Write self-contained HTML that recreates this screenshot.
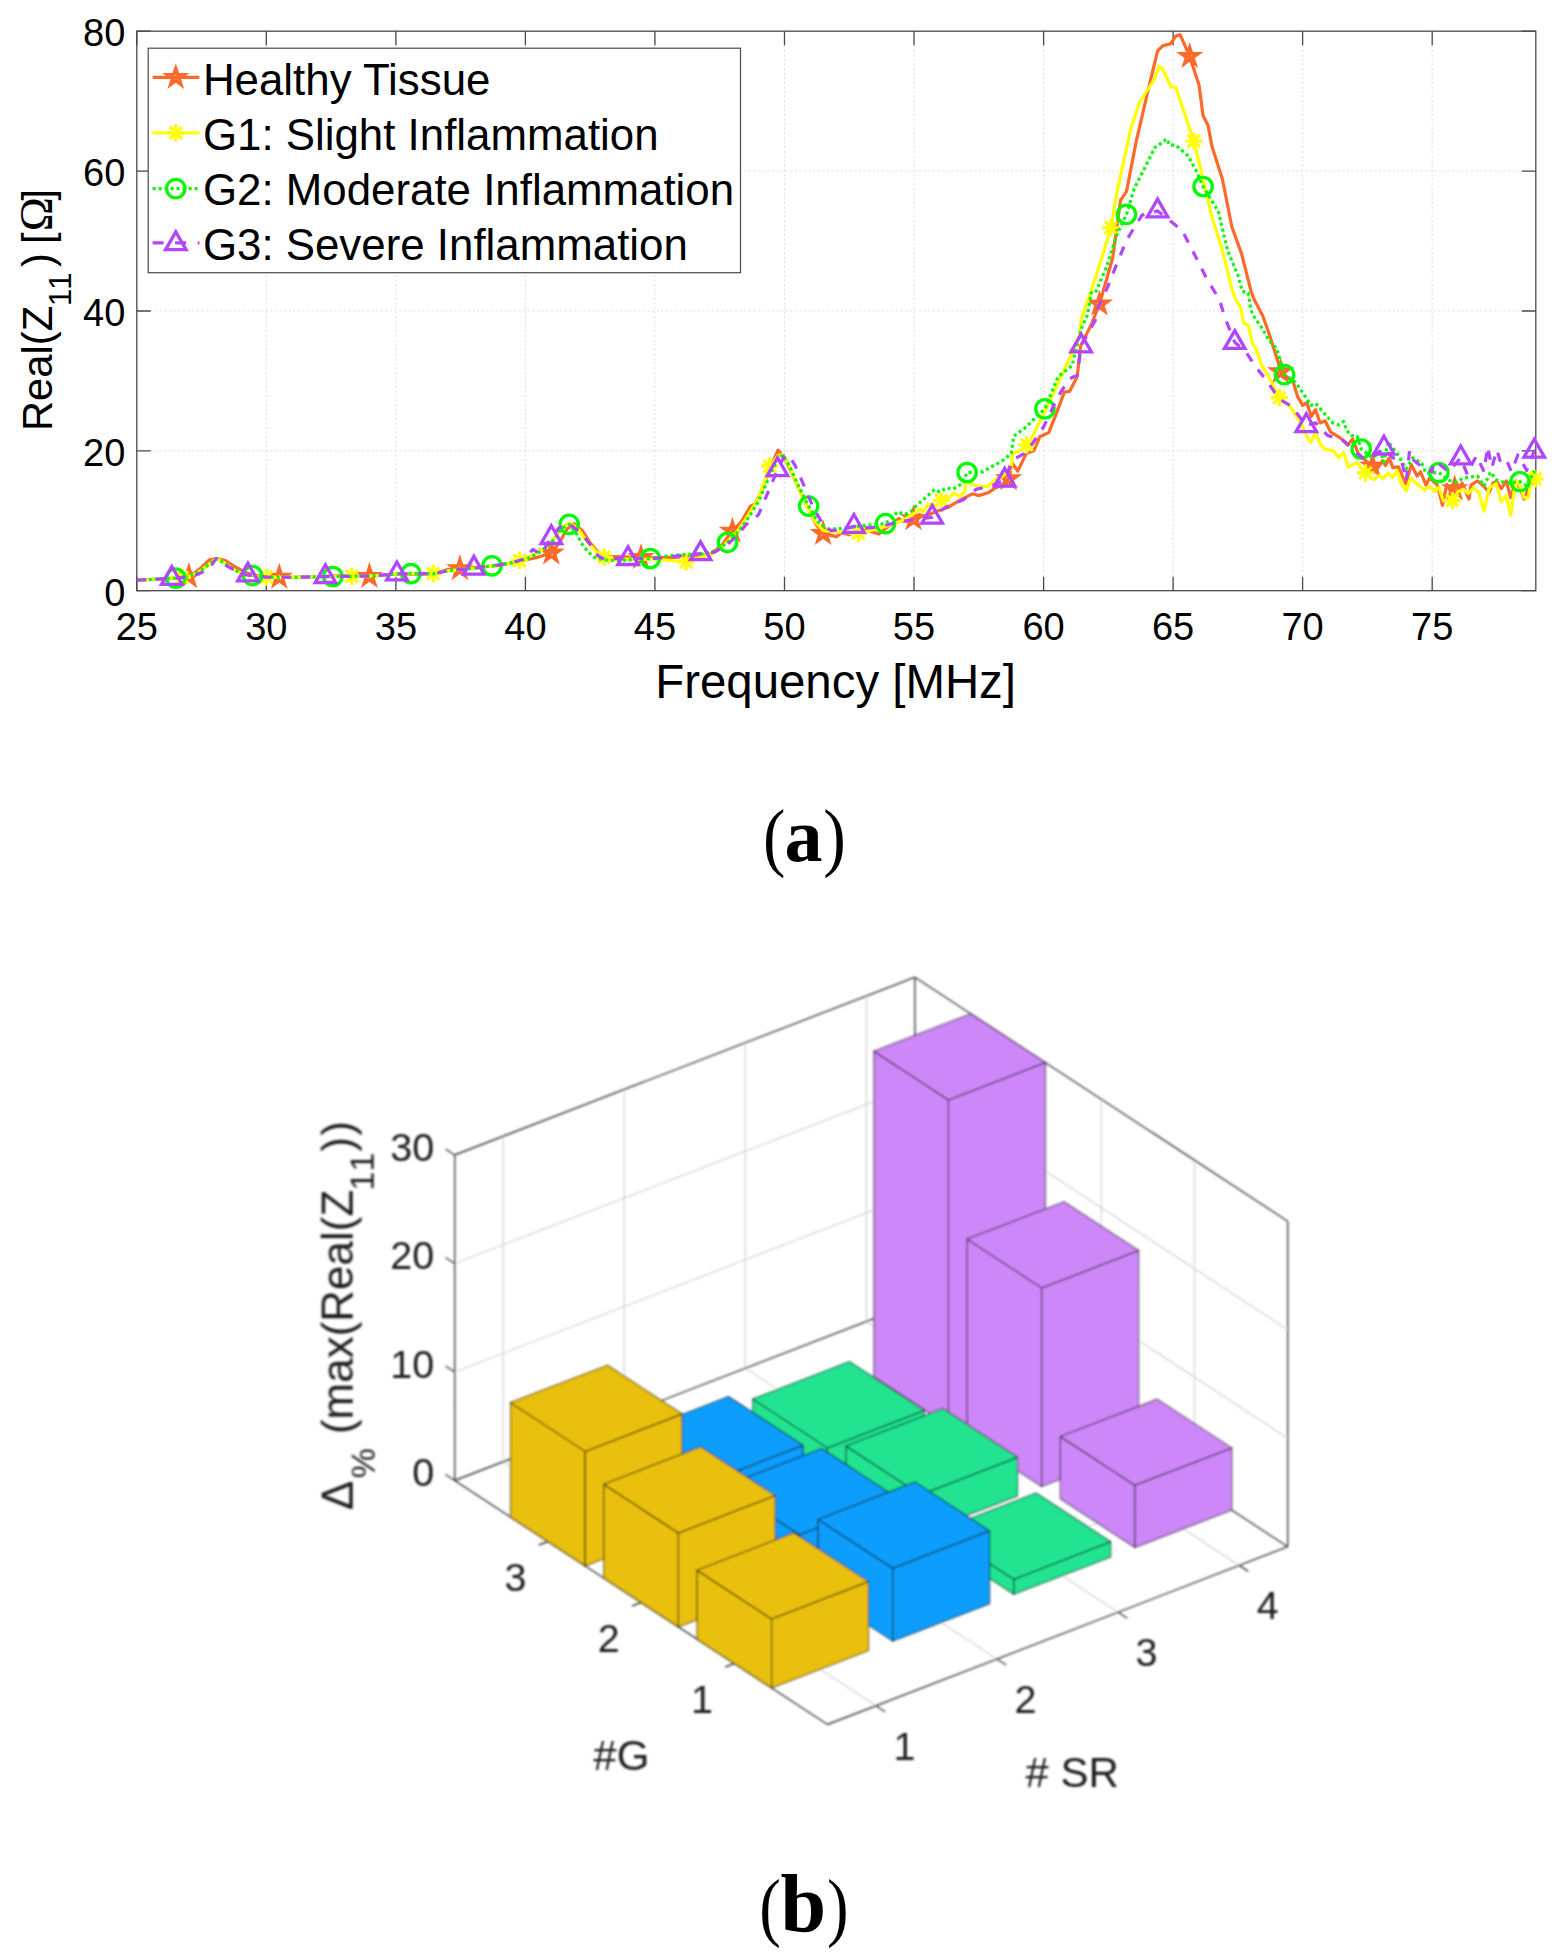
<!DOCTYPE html>
<html lang="en"><head><meta charset="utf-8"><title>Figure</title>
<style>html,body{margin:0;padding:0;background:#fff}svg{display:block}text{fill:#000}</style></head><body>
<svg width="1565" height="1958" viewBox="0 0 1565 1958">
<rect width="1565" height="1958" fill="#fff"/>
<defs><clipPath id="ca"><rect x="136.8" y="31.2" width="1399.0" height="559.5"/></clipPath></defs>
<g id="chart-a">
<path d="M266.3 31.2V590.7M395.9 31.2V590.7M525.4 31.2V590.7M654.9 31.2V590.7M784.5 31.2V590.7M914.0 31.2V590.7M1043.6 31.2V590.7M1173.1 31.2V590.7M1302.6 31.2V590.7M1432.2 31.2V590.7M136.8 450.8H1535.8M136.8 311.0H1535.8M136.8 171.1H1535.8" stroke="#dcdcdc" stroke-width="0.9" stroke-dasharray="2.3 2.3" fill="none"/>
<path d="M136.8 590.7v-14.0M136.8 31.2v14.0M266.3 590.7v-14.0M266.3 31.2v14.0M395.9 590.7v-14.0M395.9 31.2v14.0M525.4 590.7v-14.0M525.4 31.2v14.0M654.9 590.7v-14.0M654.9 31.2v14.0M784.5 590.7v-14.0M784.5 31.2v14.0M914.0 590.7v-14.0M914.0 31.2v14.0M1043.6 590.7v-14.0M1043.6 31.2v14.0M1173.1 590.7v-14.0M1173.1 31.2v14.0M1302.6 590.7v-14.0M1302.6 31.2v14.0M1432.2 590.7v-14.0M1432.2 31.2v14.0M136.8 590.7h14.0M1535.8 590.7h-14.0M136.8 450.8h14.0M1535.8 450.8h-14.0M136.8 311.0h14.0M1535.8 311.0h-14.0M136.8 171.1h14.0M1535.8 171.1h-14.0M136.8 31.2h14.0M1535.8 31.2h-14.0" stroke="#4a4a4a" stroke-width="1.3" fill="none"/>
<rect x="136.8" y="31.2" width="1399.0" height="559.5" fill="none" stroke="#4a4a4a" stroke-width="1.3"/>
<g fill="none" stroke-linejoin="round">
<polyline clip-path="url(#ca)" points="136.8,580.2 149.8,579.5 162.7,578.8 175.7,578.1 188.6,576.7 199.0,569.7 209.3,559.9 216.3,558.5 224.9,560.3 235.2,566.9 245.6,572.5 256.0,575.3 266.3,577.1 292.2,577.4 318.2,576.7 344.1,575.7 370.0,576.4 395.9,573.9 421.8,574.3 434.7,573.6 447.7,569.4 473.6,567.6 499.5,565.5 512.5,562.7 525.4,559.9 538.4,557.1 551.3,552.9 559.1,543.1 566.9,529.2 574.1,523.6 582.4,530.6 590.2,543.1 599.2,553.6 608.3,556.4 629.0,557.1 654.9,557.8 680.9,557.1 701.6,555.7 711.9,553.6 722.3,544.5 732.4,531.3 741.0,522.2 750.5,506.1 755.0,504.0 761.2,492.1 768.9,470.4 778.0,450.1 784.5,457.8 792.3,474.6 800.0,491.4 808.6,509.6 815.6,523.6 822.6,533.4 831.1,535.4 836.3,536.8 841.5,532.7 849.3,534.8 857.0,530.6 864.8,528.5 872.6,532.0 878.8,534.1 885.5,528.5 892.5,523.6 898.5,518.7 903.7,521.5 908.8,520.8 913.5,518.7 919.2,514.5 924.4,516.6 937.3,511.0 947.7,507.5 960.7,499.8 972.3,493.8 978.8,495.6 987.9,492.8 994.3,488.6 1003.1,484.4 1008.6,478.8 1012.5,463.4 1017.7,471.1 1026.2,453.6 1033.7,450.8 1039.7,436.8 1048.7,432.6 1056.5,413.1 1064.3,392.1 1069.5,391.4 1077.2,376.7 1080.6,345.9 1091.2,324.9 1099.5,304.0 1112.7,257.8 1120.5,200.4 1126.5,191.4 1136.0,142.4 1149.3,85.1 1157.6,50.8 1162.7,45.9 1170.5,43.8 1175.7,36.1 1180.1,34.7 1189.7,56.4 1199.0,85.1 1203.1,115.8 1208.1,125.6 1212.0,146.6 1222.3,178.8 1231.9,227.0 1241.5,253.6 1250.8,290.2 1253.9,299.1 1262.7,315.8 1269.2,334.0 1278.3,362.7 1280.6,371.8 1293.3,382.3 1297.5,396.3 1302.6,405.4 1306.8,402.6 1311.2,416.6 1315.6,409.6 1320.0,422.9 1325.2,420.8 1330.4,431.9 1340.5,438.2 1348.2,444.5 1352.6,438.9 1358.3,453.6 1368.7,463.4 1377.0,469.0 1382.7,460.6 1385.5,465.5 1389.2,457.8 1392.8,467.6 1398.5,466.9 1405.7,483.7 1411.4,464.8 1417.1,476.0 1420.5,471.8 1426.0,485.1 1429.6,478.1 1437.4,485.1 1442.5,505.4 1446.7,484.4 1450.3,490.7 1454.7,488.6 1456.8,483.0 1459.4,490.0 1462.0,483.0 1469.0,499.1 1471.0,485.1 1477.5,480.9 1483.5,486.1 1489.2,492.1 1493.1,483.0 1496.9,481.6 1501.3,488.6 1506.3,480.9 1510.7,497.7 1515.6,480.9 1520.3,488.6 1524.1,499.1 1529.3,485.8 1534.5,480.2 1538.4,482.3" stroke="#FF6929" stroke-width="3.2"/>
<g stroke="#FF6929" stroke-width="3.5" stroke-linejoin="miter"><polygon points="188.9,567.8 190.8,573.9 197.1,573.8 192.0,577.6 194.0,583.6 188.9,579.9 183.8,583.6 185.7,577.6 180.6,573.8 186.9,573.9"/><polygon points="279.3,568.5 281.2,574.6 287.6,574.5 282.4,578.3 284.4,584.3 279.3,580.6 274.2,584.3 276.1,578.3 271.0,574.5 277.3,574.6"/><polygon points="369.4,567.6 371.4,573.7 377.7,573.7 372.6,577.4 374.6,583.4 369.4,579.7 364.3,583.4 366.3,577.4 361.2,573.7 367.5,573.7"/><polygon points="459.9,559.8 461.8,565.9 468.1,565.9 463.0,569.6 465.0,575.6 459.9,571.9 454.8,575.6 456.7,569.6 451.6,565.9 457.9,565.9"/><polygon points="551.3,544.2 553.3,550.2 559.6,550.2 554.5,554.0 556.4,560.0 551.3,556.3 546.2,560.0 548.2,554.0 543.0,550.2 549.4,550.2"/><polygon points="641.0,548.8 642.9,554.8 649.2,554.8 644.1,558.5 646.1,564.5 641.0,560.8 635.8,564.5 637.8,558.5 632.7,554.8 639.0,554.8"/><polygon points="732.4,522.6 734.4,528.6 740.7,528.6 735.6,532.3 737.5,538.3 732.4,534.6 727.3,538.3 729.3,532.3 724.1,528.6 730.5,528.6"/><polygon points="823.1,524.8 825.0,530.8 831.4,530.8 826.2,534.5 828.2,540.5 823.1,536.8 818.0,540.5 819.9,534.5 814.8,530.8 821.1,530.8"/><polygon points="913.5,510.0 915.5,516.0 921.8,516.0 916.7,519.7 918.6,525.7 913.5,522.0 908.4,525.7 910.3,519.7 905.2,516.0 911.6,516.0"/><polygon points="1008.6,470.1 1010.5,476.1 1016.9,476.1 1011.7,479.8 1013.7,485.8 1008.6,482.1 1003.5,485.8 1005.4,479.8 1000.3,476.1 1006.6,476.1"/><polygon points="1099.5,295.3 1101.5,301.3 1107.8,301.3 1102.7,305.0 1104.6,311.0 1099.5,307.3 1094.4,311.0 1096.4,305.0 1091.2,301.3 1097.6,301.3"/><polygon points="1189.7,47.7 1191.6,53.7 1198.0,53.7 1192.8,57.4 1194.8,63.4 1189.7,59.7 1184.6,63.4 1186.5,57.4 1181.4,53.7 1187.7,53.7"/><polygon points="1280.6,363.1 1282.6,369.1 1288.9,369.1 1283.8,372.8 1285.7,378.8 1280.6,375.1 1275.5,378.8 1277.5,372.8 1272.3,369.1 1278.7,369.1"/><polygon points="1372.6,457.3 1374.5,463.4 1380.9,463.3 1375.7,467.1 1377.7,473.1 1372.6,469.4 1367.5,473.1 1369.4,467.1 1364.3,463.3 1370.6,463.4"/><polygon points="1454.7,479.9 1456.7,485.9 1463.0,485.9 1457.9,489.6 1459.8,495.6 1454.7,491.9 1449.6,495.6 1451.6,489.6 1446.4,485.9 1452.8,485.9"/></g>
<polyline clip-path="url(#ca)" points="136.8,580.2 149.8,579.5 162.7,578.8 175.7,578.1 188.6,576.7 199.0,571.8 209.3,564.1 216.3,558.5 224.9,563.4 235.2,570.4 245.6,574.6 256.0,576.0 266.3,577.1 292.2,577.4 318.2,576.7 344.1,576.4 370.0,576.0 395.9,573.9 421.8,573.6 434.7,573.6 447.7,570.8 473.6,568.3 499.5,564.8 512.5,562.7 525.4,558.5 535.8,553.6 546.1,547.3 553.9,538.9 561.7,527.8 569.5,522.9 577.2,527.8 587.6,542.4 598.0,553.6 604.2,557.1 616.1,559.9 629.0,559.2 654.9,559.2 686.0,562.0 701.6,557.1 714.5,552.9 727.5,541.7 737.9,530.6 748.2,515.2 758.6,498.4 769.7,466.2 778.0,455.7 782.9,454.3 789.7,467.6 797.4,485.8 807.8,508.2 815.6,522.2 823.3,530.6 836.3,532.0 858.3,533.4 870.0,530.6 888.1,525.7 903.7,520.1 914.5,513.1 920.8,508.9 923.3,511.7 928.5,504.0 936.3,505.4 941.5,500.5 949.0,497.7 954.2,492.8 959.4,496.3 964.5,492.1 965.8,482.3 976.2,485.8 987.9,486.5 994.3,480.2 1002.1,476.7 1011.2,469.0 1012.5,453.6 1020.2,450.8 1029.3,442.4 1035.8,429.8 1042.8,415.2 1051.3,397.7 1059.1,380.9 1069.5,358.5 1079.8,334.7 1081.1,319.3 1092.0,288.6 1103.1,253.6 1110.9,227.7 1116.9,192.8 1130.3,130.5 1139.4,102.5 1154.2,79.5 1158.8,66.2 1162.7,69.0 1171.3,87.2 1175.7,87.2 1183.5,110.2 1193.8,141.0 1203.1,178.8 1212.0,217.2 1222.3,250.1 1232.2,290.0 1236.1,300.5 1240.5,306.8 1243.8,323.5 1248.2,324.9 1252.6,343.8 1256.0,348.7 1261.2,364.1 1269.0,377.4 1279.3,397.7 1289.2,405.4 1300.8,422.9 1307.0,436.8 1310.9,442.4 1315.6,431.9 1320.0,443.8 1325.2,449.4 1333.7,451.1 1338.9,457.8 1343.6,452.2 1348.2,466.9 1357.0,462.7 1365.6,472.9 1373.6,479.5 1379.6,475.3 1382.9,478.8 1388.1,473.2 1392.8,477.4 1397.2,470.4 1401.1,483.7 1406.3,490.7 1410.7,478.1 1416.6,483.7 1424.4,490.0 1429.6,486.5 1434.8,491.4 1438.9,487.2 1443.3,500.8 1452.4,500.5 1458.1,491.4 1463.3,489.3 1468.4,493.5 1473.6,487.9 1478.8,492.1 1484.0,511.0 1489.2,487.9 1496.2,483.7 1501.3,501.9 1506.0,495.6 1510.7,515.2 1515.6,480.9 1520.3,486.5 1524.1,497.7 1528.5,497.7 1532.2,471.8 1535.0,478.8 1537.9,478.8" stroke="#FFFF00" stroke-width="3.2"/>
<g stroke="#FFFF00" stroke-width="3.2"><path d="M173.5 577.4L190.7 577.4M176.1 571.3L188.2 583.5M182.1 568.8L182.1 586.0M188.2 571.3L176.1 583.5"/><path d="M257.7 577.1L274.9 577.1M260.3 571.0L272.4 583.1M266.3 568.5L266.3 585.7M272.4 571.0L260.3 583.1"/><path d="M343.2 576.3L360.4 576.3M345.8 570.2L357.9 582.3M351.8 567.7L351.8 584.9M357.9 570.2L345.8 582.3"/><path d="M424.6 573.6L441.8 573.6M427.1 567.5L439.3 579.6M433.2 565.0L433.2 582.2M439.3 567.5L427.1 579.6"/><path d="M510.9 560.5L528.1 560.5M513.4 554.4L525.5 566.5M519.5 551.9L519.5 569.1M525.5 554.4L513.4 566.5"/><path d="M595.6 557.1L612.8 557.1M598.1 551.0L610.3 563.2M604.2 548.5L604.2 565.7M610.3 551.0L598.1 563.2"/><path d="M677.4 562.0L694.6 562.0M680.0 555.9L692.1 568.1M686.0 553.4L686.0 570.6M692.1 555.9L680.0 568.1"/><path d="M761.1 466.2L778.3 466.2M763.6 460.1L775.8 472.3M769.7 457.6L769.7 474.8M775.8 460.1L763.6 472.3"/><path d="M849.7 533.4L866.9 533.4M852.2 527.3L864.4 539.4M858.3 524.8L858.3 542.0M864.4 527.3L852.2 539.4"/><path d="M932.9 500.5L950.1 500.5M935.4 494.4L947.6 506.6M941.5 491.9L941.5 509.1M947.6 494.4L935.4 506.6"/><path d="M1018.1 444.8L1035.3 444.8M1020.6 438.7L1032.8 450.9M1026.7 436.2L1026.7 453.4M1032.8 438.7L1020.6 450.9"/><path d="M1102.3 227.7L1119.5 227.7M1104.8 221.6L1117.0 233.8M1110.9 219.1L1110.9 236.3M1117.0 221.6L1104.8 233.8"/><path d="M1185.2 141.0L1202.4 141.0M1187.7 134.9L1199.9 147.1M1193.8 132.4L1193.8 149.6M1199.9 134.9L1187.7 147.1"/><path d="M1270.7 397.7L1287.9 397.7M1273.2 391.6L1285.4 403.8M1279.3 389.1L1279.3 406.3M1285.4 391.6L1273.2 403.8"/><path d="M1357.0 472.9L1374.2 472.9M1359.5 466.8L1371.7 478.9M1365.6 464.3L1365.6 481.5M1371.7 466.8L1359.5 478.9"/><path d="M1443.8 500.5L1461.0 500.5M1446.3 494.4L1458.5 506.6M1452.4 491.9L1452.4 509.1M1458.5 494.4L1446.3 506.6"/><path d="M1526.4 478.8L1543.6 478.8M1528.9 472.7L1541.1 484.9M1535.0 470.2L1535.0 487.4M1541.1 472.7L1528.9 484.9"/></g>
<polyline clip-path="url(#ca)" points="136.8,580.2 149.8,579.5 162.7,578.8 175.7,578.1 188.6,576.7 199.0,571.8 209.3,564.1 216.3,558.5 224.9,563.4 235.2,570.4 245.6,574.6 256.0,576.0 266.3,577.1 292.2,577.4 318.2,576.7 344.1,576.4 370.0,576.0 395.9,573.9 421.8,573.6 434.7,573.6 447.7,570.8 473.6,568.3 499.5,564.8 512.5,562.7 525.4,559.2 535.8,554.3 546.1,548.0 553.9,539.6 561.7,528.5 569.2,524.3 577.2,534.8 581.4,543.1 587.6,551.5 594.1,557.1 603.1,559.9 616.1,560.6 629.0,559.9 650.3,558.5 667.9,555.7 688.6,554.3 706.8,553.6 717.1,550.1 727.5,542.4 737.9,532.0 748.2,518.0 758.6,501.2 768.9,477.4 778.0,457.8 782.9,455.0 789.7,466.2 797.4,483.7 808.6,506.1 818.2,522.2 828.5,529.2 841.5,528.5 862.2,525.7 885.5,523.6 897.7,511.7 903.7,514.5 910.1,512.4 916.6,505.4 927.0,496.3 934.7,489.3 939.9,492.1 946.4,487.9 952.9,489.3 962.2,483.7 967.1,472.5 982.7,471.8 1003.1,460.3 1011.2,453.6 1013.8,436.1 1026.2,427.0 1035.8,417.3 1044.9,408.9 1058.1,376.7 1072.1,365.5 1081.1,329.1 1087.6,314.4 1091.2,292.8 1095.4,292.8 1105.7,269.0 1116.9,234.7 1126.5,214.4 1134.2,188.6 1143.8,169.7 1155.0,147.3 1157.6,145.9 1166.6,138.9 1169.7,145.2 1175.7,145.2 1187.9,155.7 1195.6,169.7 1203.1,186.5 1218.4,211.6 1227.5,250.1 1237.9,275.3 1242.3,291.4 1248.2,292.8 1250.8,309.6 1253.4,315.8 1261.2,327.0 1269.0,340.3 1276.7,348.7 1284.5,374.6 1295.6,382.3 1307.0,399.1 1310.9,405.4 1315.6,403.3 1325.2,414.5 1332.7,422.9 1338.9,424.9 1343.6,421.5 1346.7,430.5 1351.1,435.4 1357.0,436.1 1361.2,449.0 1372.6,457.8 1380.4,451.5 1384.0,462.0 1388.1,441.7 1397.2,453.6 1402.9,463.4 1406.3,469.0 1413.0,457.8 1421.8,463.4 1426.0,473.2 1438.9,472.5 1448.8,480.2 1455.5,482.3 1463.3,478.1 1477.5,476.0 1484.0,485.8 1490.5,472.2 1496.9,480.2 1506.3,483.0 1520.0,481.6 1526.7,485.8 1534.0,471.8 1538.4,475.3" stroke="#06FA06" stroke-width="3.2" stroke-dasharray="3 3"/>
<g stroke="#06FA06" stroke-width="3.3"><circle cx="175.7" cy="578.1" r="9.2"/><circle cx="252.6" cy="575.6" r="9.2"/><circle cx="332.9" cy="576.5" r="9.2"/><circle cx="410.9" cy="573.7" r="9.2"/><circle cx="492.0" cy="565.8" r="9.2"/><circle cx="569.2" cy="524.3" r="9.2"/><circle cx="650.3" cy="558.5" r="9.2"/><circle cx="727.5" cy="542.4" r="9.2"/><circle cx="808.6" cy="506.1" r="9.2"/><circle cx="885.5" cy="523.6" r="9.2"/><circle cx="967.1" cy="472.5" r="9.2"/><circle cx="1044.9" cy="408.9" r="9.2"/><circle cx="1126.5" cy="214.4" r="9.2"/><circle cx="1203.1" cy="186.5" r="9.2"/><circle cx="1284.5" cy="374.6" r="9.2"/><circle cx="1361.2" cy="449.0" r="9.2"/><circle cx="1438.9" cy="472.5" r="9.2"/><circle cx="1520.0" cy="481.6" r="9.2"/></g>
<polyline clip-path="url(#ca)" points="136.8,580.2 149.8,579.5 162.7,578.8 175.7,578.1 188.6,576.7 199.0,573.9 209.3,568.3 216.3,558.5 224.9,564.8 235.2,570.4 245.6,574.6 256.0,576.0 266.3,577.1 292.2,577.4 318.2,576.7 344.1,576.4 370.0,576.0 395.9,573.9 421.8,573.6 434.7,573.6 447.7,570.8 473.6,568.3 499.5,564.8 512.5,562.7 525.4,558.5 532.7,549.4 541.0,554.3 551.3,537.5 559.1,527.8 565.6,523.6 572.0,525.7 582.4,534.8 590.2,544.5 598.0,555.7 605.7,559.9 616.1,558.5 628.0,558.5 654.9,558.5 680.9,555.7 700.5,553.6 714.5,552.2 727.5,544.5 737.9,534.8 745.6,525.0 754.7,518.0 758.6,514.5 766.3,496.3 777.5,469.7 784.5,455.7 788.4,455.0 794.8,464.8 802.6,482.3 813.0,506.8 823.3,525.0 831.1,530.6 844.1,529.2 853.9,526.4 870.0,527.8 880.3,526.4 898.5,522.2 914.0,519.4 932.2,517.3 945.1,507.5 963.2,499.8 976.2,489.3 991.7,485.8 1004.7,480.2 1013.8,459.2 1024.1,453.6 1033.2,442.4 1043.6,427.0 1058.1,396.3 1069.5,378.8 1077.2,375.3 1081.1,345.9 1095.4,320.0 1098.0,307.5 1107.3,287.9 1114.8,269.0 1126.5,240.3 1142.0,215.1 1157.6,210.9 1174.4,224.2 1182.2,230.5 1191.2,248.0 1199.0,263.4 1206.8,278.8 1216.1,294.2 1220.5,303.3 1224.4,315.8 1227.5,324.2 1234.8,342.4 1245.6,351.5 1255.2,366.2 1267.4,381.6 1279.3,399.1 1291.2,406.1 1306.3,425.6 1315.6,422.9 1327.5,435.4 1342.3,440.0 1354.4,451.1 1364.0,459.2 1373.9,455.7 1384.0,448.0 1392.8,457.8 1401.1,459.2 1406.3,480.9 1409.6,450.5 1414.0,460.6 1423.1,467.6 1432.2,471.8 1433.5,462.0 1439.9,464.8 1448.8,471.8 1460.7,457.8 1467.4,474.6 1472.3,463.4 1476.7,455.7 1484.0,471.8 1487.6,446.6 1491.8,467.6 1496.9,449.7 1501.3,464.8 1507.3,462.0 1511.4,471.8 1517.9,455.0 1526.7,470.4 1534.2,451.2 1538.4,451.5" stroke="#B146FF" stroke-width="3.2" stroke-dasharray="9.5 10"/>
<g stroke="#B146FF" stroke-width="3.3" stroke-linejoin="miter"><polygon points="171.8,566.5 161.5,584.3 182.0,584.3"/><polygon points="247.9,563.1 237.7,580.9 258.2,580.9"/><polygon points="325.4,564.7 315.2,582.5 335.7,582.5"/><polygon points="396.9,562.0 386.7,579.8 407.2,579.8"/><polygon points="473.9,556.4 463.6,574.2 484.1,574.2"/><polygon points="551.3,525.7 541.1,543.5 561.6,543.5"/><polygon points="628.0,546.7 617.8,564.5 638.3,564.5"/><polygon points="700.5,541.8 690.3,559.6 710.8,559.6"/><polygon points="777.5,457.8 767.2,475.6 787.7,475.6"/><polygon points="853.9,514.5 843.7,532.3 864.2,532.3"/><polygon points="932.2,505.4 921.9,523.2 942.4,523.2"/><polygon points="1004.7,468.3 994.4,486.1 1014.9,486.1"/><polygon points="1081.1,334.1 1070.9,351.9 1091.4,351.9"/><polygon points="1157.6,199.1 1147.3,216.9 1167.8,216.9"/><polygon points="1234.8,330.6 1224.5,348.4 1245.0,348.4"/><polygon points="1306.3,413.8 1296.0,431.6 1316.5,431.6"/><polygon points="1384.0,436.2 1373.7,454.0 1394.2,454.0"/><polygon points="1460.7,446.0 1450.4,463.8 1470.9,463.8"/><polygon points="1534.2,439.3 1524.0,457.1 1544.5,457.1"/></g>
</g>
<g font-family="Liberation Sans, Arial, sans-serif" font-size="38">
<text x="136.8" y="640" text-anchor="middle">25</text>
<text x="266.3" y="640" text-anchor="middle">30</text>
<text x="395.9" y="640" text-anchor="middle">35</text>
<text x="525.4" y="640" text-anchor="middle">40</text>
<text x="654.9" y="640" text-anchor="middle">45</text>
<text x="784.5" y="640" text-anchor="middle">50</text>
<text x="914.0" y="640" text-anchor="middle">55</text>
<text x="1043.6" y="640" text-anchor="middle">60</text>
<text x="1173.1" y="640" text-anchor="middle">65</text>
<text x="1302.6" y="640" text-anchor="middle">70</text>
<text x="1432.2" y="640" text-anchor="middle">75</text>
<text x="125.4" y="605.7" text-anchor="end">0</text>
<text x="125.4" y="465.8" text-anchor="end">20</text>
<text x="125.4" y="326.0" text-anchor="end">40</text>
<text x="125.4" y="186.1" text-anchor="end">60</text>
<text x="125.4" y="46.2" text-anchor="end">80</text>
</g>
<text x="835.6" y="697.6" text-anchor="middle" font-family="Liberation Sans, Arial, sans-serif" font-size="47.4">Frequency [MHz]</text>
<g transform="translate(51.9,427.8) rotate(-90)" font-family="Liberation Sans, Arial, sans-serif" font-size="41.7"><text x="-3.2" y="0">Real(Z</text><text x="121.6" y="19.2" font-size="31.5" style="font-kerning:none;letter-spacing:-1.3px">11</text><text x="160.9" y="0">)</text><text x="183.7" y="0">[</text><text x="196.6" y="0" font-family="Liberation Serif, Times New Roman, serif" font-size="46">Ω</text><text x="227.4" y="0">]</text></g>
<rect x="148.2" y="48.2" width="592.3" height="224.5" fill="#fff" stroke="#4a4a4a" stroke-width="1.2"/>
<g fill="none">
<path d="M152.6 77.4H199.4" stroke="#FF6929" stroke-width="3.2"/><g stroke="#FF6929" stroke-width="3.5" stroke-linejoin="miter"><polygon points="175.8,68.7 177.8,74.7 184.1,74.7 179.0,78.4 180.9,84.4 175.8,80.7 170.7,84.4 172.6,78.4 167.5,74.7 173.8,74.7"/></g>
<path d="M152.6 132.9H199.4" stroke="#FFFF00" stroke-width="3.2"/><g stroke="#FFFF00" stroke-width="3.2"><path d="M167.2 132.9L184.4 132.9M169.7 126.8L181.9 139.0M175.8 124.3L175.8 141.5M181.9 126.8L169.7 139.0"/></g>
<path d="M152.6 188.6H199.4" stroke="#06FA06" stroke-width="3.2" stroke-dasharray="3 3"/><g stroke="#06FA06" stroke-width="3.3"><circle cx="175.8" cy="188.6" r="9.2"/></g>
<path d="M152.6 242.8H199.4" stroke="#B146FF" stroke-width="3.2" stroke-dasharray="11 11.5"/><g stroke="#B146FF" stroke-width="3.3" stroke-linejoin="miter"><polygon points="175.8,231.9 165.6,249.7 186.1,249.7"/></g>
</g>
<g font-family="Liberation Sans, Arial, sans-serif" font-size="43.85">
<text x="202.9" y="94.8">Healthy Tissue</text>
<text x="202.9" y="150.0">G1: Slight Inflammation</text>
<text x="202.9" y="205.1">G2: Moderate Inflammation</text>
<text x="202.9" y="259.7">G3: Severe Inflammation</text>
</g>
</g>
<g font-family="Liberation Serif, Times New Roman, serif" font-size="80"><text transform="translate(762.9,862) scale(0.84,0.95)">(</text><text x="784.6" y="861.4" font-weight="bold" font-size="76">a</text><text transform="translate(823.2,862) scale(0.85,0.95)">)</text></g>
<defs><filter id="soft" x="-2%" y="-2%" width="104%" height="104%"><feGaussianBlur stdDeviation="0.8"/></filter></defs>
<g id="chart-b" filter="url(#soft)">
<path d="M875.9 1705.8L503.1 1461.8M997.0 1659.0L624.2 1415.0M1118.1 1612.2L745.3 1368.2M1239.2 1565.4L866.4 1321.4M734.3 1663.5L1194.5 1485.7M641.1 1602.5L1101.3 1424.7M547.9 1541.5L1008.1 1363.7M503.1 1461.8L503.1 1136.3M624.2 1415.0L624.2 1089.5M745.3 1368.2L745.3 1042.7M866.4 1321.4L866.4 995.9M454.7 1372.0L914.9 1194.2M454.7 1263.5L914.9 1085.7M1194.5 1485.7L1194.5 1160.2M1101.3 1424.7L1101.3 1099.2M1008.1 1363.7L1008.1 1038.2M1287.7 1438.2L914.9 1194.2M1287.7 1329.7L914.9 1085.7" stroke="#d4d4d4" stroke-width="1.3" fill="none"/>
<path d="M454.7 1480.5L454.7 1155.0M454.7 1480.5L827.5 1724.5M827.5 1724.5L1287.7 1546.7M454.7 1155.0L914.9 977.2M914.9 977.2L1287.7 1221.2M914.9 1302.7L914.9 977.2M1287.7 1546.7L1287.7 1221.2M454.7 1480.5L914.9 1302.7M914.9 1302.7L1287.7 1546.7M875.9 1705.8L885.1 1711.8M997.0 1659.0L1006.2 1665.0M1118.1 1612.2L1127.3 1618.2M1239.2 1565.4L1248.4 1571.4M734.3 1663.5L725.2 1667.0M641.1 1602.5L632.0 1606.0M547.9 1541.5L538.8 1545.0M454.7 1480.5L445.5 1474.5M454.7 1372.0L445.5 1366.0M454.7 1263.5L445.5 1257.5M454.7 1155.0L445.5 1149.0" stroke="#3a3a3a" stroke-width="1.35" fill="none"/>
<g fill="#CD87F8" stroke="#000" stroke-opacity="0.72" stroke-width="1.1" stroke-linejoin="round"><polygon points="873.9,1376.7 948.5,1425.5 948.5,1100.0 873.9,1051.2"/><polygon points="948.5,1425.5 1045.4,1388.1 1045.4,1062.6 948.5,1100.0"/><polygon points="948.5,1100.0 1045.4,1062.6 970.8,1013.8 873.9,1051.2"/></g>
<g fill="#CD87F8"><polygon points="872.1,1377.4 873.9,1376.7 957.8,1431.6 956.0,1432.3"/><polygon points="946.6,1424.3 973.3,1414.0 984.4,1421.3 957.8,1431.6"/></g>
<g fill="#CD87F8" stroke="#000" stroke-opacity="0.72" stroke-width="1.1" stroke-linejoin="round"><polygon points="967.1,1437.7 1041.7,1486.5 1041.7,1287.9 967.1,1239.1"/><polygon points="1041.7,1486.5 1138.6,1449.1 1138.6,1250.5 1041.7,1287.9"/><polygon points="1041.7,1287.9 1138.6,1250.5 1064.0,1201.7 967.1,1239.1"/></g>
<g fill="#21E490" stroke="#000" stroke-opacity="0.72" stroke-width="1.1" stroke-linejoin="round"><polygon points="752.8,1423.5 827.4,1472.3 827.4,1447.9 752.8,1399.1"/><polygon points="827.4,1472.3 924.3,1434.9 924.3,1410.4 827.4,1447.9"/><polygon points="827.4,1447.9 924.3,1410.4 849.7,1361.6 752.8,1399.1"/></g>
<g fill="#CD87F8" stroke="#000" stroke-opacity="0.72" stroke-width="1.1" stroke-linejoin="round"><polygon points="1060.3,1498.7 1134.9,1547.5 1134.9,1485.3 1060.3,1436.5"/><polygon points="1134.9,1547.5 1231.8,1510.1 1231.8,1447.9 1134.9,1485.3"/><polygon points="1134.9,1485.3 1231.8,1447.9 1157.2,1399.1 1060.3,1436.5"/></g>
<g fill="#21E490" stroke="#000" stroke-opacity="0.72" stroke-width="1.1" stroke-linejoin="round"><polygon points="846.0,1484.5 920.6,1533.3 920.6,1494.8 846.0,1446.0"/><polygon points="920.6,1533.3 1017.5,1495.9 1017.5,1457.3 920.6,1494.8"/><polygon points="920.6,1494.8 1017.5,1457.3 942.9,1408.5 846.0,1446.0"/></g>
<g fill="#0F9DFC" stroke="#000" stroke-opacity="0.72" stroke-width="1.1" stroke-linejoin="round"><polygon points="631.7,1470.3 706.3,1519.1 706.3,1482.8 631.7,1434.0"/><polygon points="706.3,1519.1 803.2,1481.7 803.2,1445.3 706.3,1482.8"/><polygon points="706.3,1482.8 803.2,1445.3 728.6,1396.5 631.7,1434.0"/></g>
<g fill="#21E490" stroke="#000" stroke-opacity="0.72" stroke-width="1.1" stroke-linejoin="round"><polygon points="939.2,1545.5 1013.8,1594.3 1013.8,1579.2 939.2,1530.4"/><polygon points="1013.8,1594.3 1110.7,1556.9 1110.7,1541.8 1013.8,1579.2"/><polygon points="1013.8,1579.2 1110.7,1541.8 1036.1,1493.0 939.2,1530.4"/></g>
<g fill="#0F9DFC" stroke="#000" stroke-opacity="0.72" stroke-width="1.1" stroke-linejoin="round"><polygon points="724.9,1531.3 799.5,1580.1 799.5,1534.7 724.9,1485.9"/><polygon points="799.5,1580.1 896.4,1542.7 896.4,1497.3 799.5,1534.7"/><polygon points="799.5,1534.7 896.4,1497.3 821.8,1448.5 724.9,1485.9"/></g>
<g fill="#E9C00A" stroke="#000" stroke-opacity="0.72" stroke-width="1.1" stroke-linejoin="round"><polygon points="510.6,1517.1 585.2,1565.9 585.2,1451.4 510.6,1402.6"/><polygon points="585.2,1565.9 682.1,1528.5 682.1,1414.0 585.2,1451.4"/><polygon points="585.2,1451.4 682.1,1414.0 607.5,1365.2 510.6,1402.6"/></g>
<g fill="#0F9DFC" stroke="#000" stroke-opacity="0.72" stroke-width="1.1" stroke-linejoin="round"><polygon points="818.1,1592.3 892.7,1641.1 892.7,1568.2 818.1,1519.4"/><polygon points="892.7,1641.1 989.6,1603.7 989.6,1530.7 892.7,1568.2"/><polygon points="892.7,1568.2 989.6,1530.7 915.0,1481.9 818.1,1519.4"/></g>
<g fill="#E9C00A" stroke="#000" stroke-opacity="0.72" stroke-width="1.1" stroke-linejoin="round"><polygon points="603.8,1578.1 678.4,1626.9 678.4,1533.0 603.8,1484.2"/><polygon points="678.4,1626.9 775.3,1589.5 775.3,1495.6 678.4,1533.0"/><polygon points="678.4,1533.0 775.3,1495.6 700.7,1446.8 603.8,1484.2"/></g>
<g fill="#E9C00A" stroke="#000" stroke-opacity="0.72" stroke-width="1.1" stroke-linejoin="round"><polygon points="697.0,1639.1 771.6,1687.9 771.6,1619.0 697.0,1570.2"/><polygon points="771.6,1687.9 868.5,1650.5 868.5,1581.6 771.6,1619.0"/><polygon points="771.6,1619.0 868.5,1581.6 793.9,1532.8 697.0,1570.2"/></g>
<g font-family="Liberation Sans, Arial, sans-serif" font-size="39.5" style="fill:#1c1c1c">
<text x="434.2" y="1486.1" text-anchor="end" style="fill:#1c1c1c">0</text>
<text x="434.2" y="1377.6" text-anchor="end" style="fill:#1c1c1c">10</text>
<text x="434.2" y="1269.1" text-anchor="end" style="fill:#1c1c1c">20</text>
<text x="434.2" y="1160.6" text-anchor="end" style="fill:#1c1c1c">30</text>
<text x="702.0" y="1712.5" text-anchor="middle" style="fill:#1c1c1c">1</text>
<text x="608.8" y="1651.5" text-anchor="middle" style="fill:#1c1c1c">2</text>
<text x="515.6" y="1590.5" text-anchor="middle" style="fill:#1c1c1c">3</text>
<text x="904.4" y="1759.8" text-anchor="middle" style="fill:#1c1c1c">1</text>
<text x="1025.5" y="1713.0" text-anchor="middle" style="fill:#1c1c1c">2</text>
<text x="1146.6" y="1666.2" text-anchor="middle" style="fill:#1c1c1c">3</text>
<text x="1267.7" y="1619.4" text-anchor="middle" style="fill:#1c1c1c">4</text>
</g>
<text x="621.3" y="1769.5" text-anchor="middle" font-family="Liberation Sans, Arial, sans-serif" font-size="42" style="fill:#1c1c1c">#G</text>
<text x="1072.2" y="1787" text-anchor="middle" font-family="Liberation Sans, Arial, sans-serif" font-size="42" style="fill:#1c1c1c"># SR</text>
<g transform="translate(352.7,1510.1) rotate(-90)" font-family="Liberation Sans, Arial, sans-serif" font-size="44" style="fill:#1c1c1c"><text x="0" y="0" style="fill:#1c1c1c">Δ</text><text x="31.7" y="22" font-size="34" style="fill:#1c1c1c">%</text><text x="75.9" y="0" style="fill:#1c1c1c">(max(Real(Z</text><text x="319.6" y="21.3" font-size="34" style="fill:#1c1c1c;font-kerning:none">11</text><text x="358.6" y="0" style="fill:#1c1c1c">)</text><text x="374.4" y="0" style="fill:#1c1c1c">)</text></g>
</g>
<g font-family="Liberation Serif, Times New Roman, serif" font-size="80"><text transform="translate(759.2,1931.8) scale(0.81,0.95)">(</text><text x="780.4" y="1931.2" font-weight="bold" font-size="82">b</text><text transform="translate(827.0,1931.8) scale(0.81,0.95)">)</text></g>
</svg></body></html>
